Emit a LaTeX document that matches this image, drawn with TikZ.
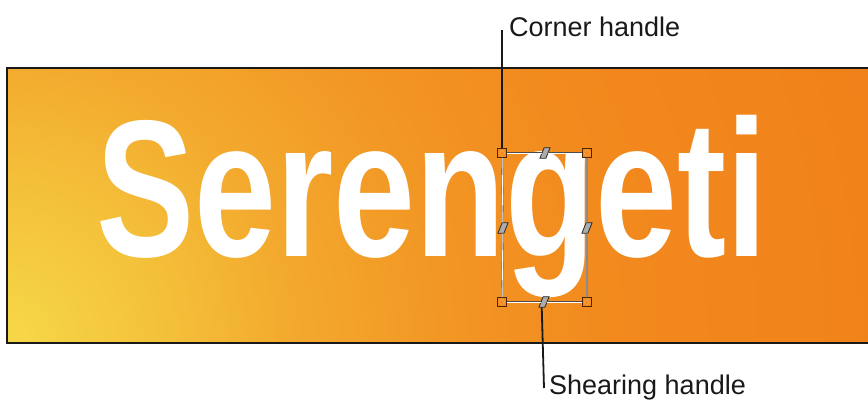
\documentclass[tikz,border=0pt]{standalone}
\usepackage{fontspec}
\setmainfont{Liberation Sans}
\definecolor{c0}{HTML}{F6D848}
\definecolor{c1}{HTML}{F4C03A}
\definecolor{c2}{HTML}{F3AA2E}
\definecolor{c3}{HTML}{F29624}
\definecolor{c4}{HTML}{F28A1E}
\definecolor{c5}{HTML}{F07E18}
\definecolor{handleorg}{HTML}{F28A1E}
\pgfdeclareradialshading{glow}{\pgfpoint{0bp}{0bp}}{color(0bp)=(c0); color(4bp)=(c1); color(7bp)=(c2); color(11bp)=(c3); color(15bp)=(c4); color(25bp)=(c5); color(50bp)=(c5)}
\tikzset{
  bbline/.style={draw=gray!60!black, double=white, double distance=0.9pt, line width=0.35pt},
  corner/.style={rectangle, draw=black!70!orange, line width=0.8pt, fill=handleorg, minimum size=9pt, inner sep=0pt,
    path picture={\draw[white!75!orange, densely dotted, line width=0.5pt] (path picture bounding box.center) circle (2.4pt);}},
  shear/.style={rectangle, xslant=0.4, draw=black!85, fill=gray!65, line width=0.8pt, minimum width=6pt, minimum height=10.5pt, inner sep=0pt},
  leader/.style={draw=black!90, line width=1.8pt},
  lbl/.style={font=\fontsize{27}{30}\selectfont, inner sep=0pt, text=black!90},
  word/.style={text=white, font=\fontsize{195}{200}\selectfont\bfseries, xscale=0.755, inner sep=0pt}
}
\begin{document}
\begin{tikzpicture}[x=1pt,y=-1pt]
\useasboundingbox (0,0) rectangle (868,406);
\begin{scope}
  \clip (7,68) rectangle (868,343);
  \shade[shading=glow] (7,343) circle (1000);
\end{scope}
\draw[line width=2.5pt, black!90] (868,68) -- (7,68) -- (7,343) -- (868,343);

\node[word, anchor=base west] (title) at (96,257) {Serengeti};

\node[corner] (tl) at (502,153) {};
\node[corner] (tr) at (587,153) {};
\node[corner] (bl) at (502,302) {};
\node[corner] (br) at (587,302) {};
\node[shear] (tm) at (545,153) {};
\node[shear] (ml) at (503,228) {};
\node[shear] (mr) at (587,228) {};
\node[shear] (bm) at (544,302) {};

\draw[bbline] (tl) -- (tm);
\draw[bbline] (tm) -- (tr);
\draw[bbline] (tr) -- (mr);
\draw[bbline] (mr) -- (br);
\draw[bbline] (br) -- (bm);
\draw[bbline] (bm) -- (bl);
\draw[bbline] (bl) -- (ml);
\draw[bbline] (ml) -- (tl);

\coordinate (ctop) at (502,30);
\draw[leader] (ctop) -- (tl.north);
\node[lbl, anchor=base west] (clbl) at (509,37) {Corner handle};

\coordinate (sbot) at (544,388);
\draw[leader] (bm.south) -- (sbot);
\node[lbl, anchor=base west] (slbl) at (549,394) {Shearing handle};
\end{tikzpicture}
\end{document}
